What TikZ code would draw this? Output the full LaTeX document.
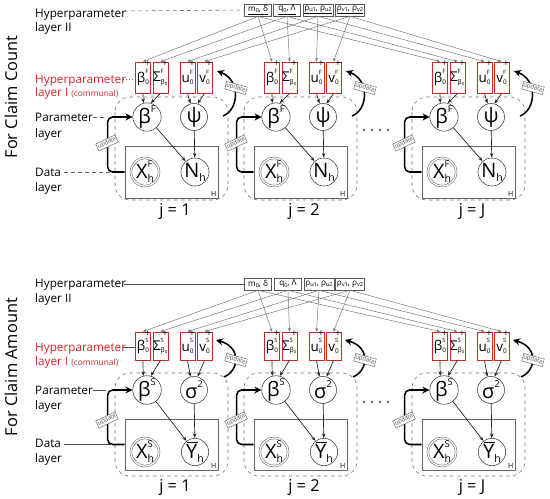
\documentclass[tikz,border=0pt]{standalone}
\usepackage{amsmath}
\usepackage{fontspec}
\setmainfont{Open Sans}
\usetikzlibrary{arrows.meta}
\definecolor{hred}{RGB}{208,40,40}
\newcommand{\sps}[1]{\raisebox{0.55em}{\fontsize{8}{8}\selectfont #1}}
\newcommand{\sbs}[1]{\raisebox{-0.2em}{\fontsize{9}{9}\selectfont #1}}
\newcommand{\spsb}[2]{\rlap{\sps{#1}}\sbs{#2}}
\newcommand{\rsb}[2]{\rlap{\raisebox{0.62em}{\fontsize{5}{5}\selectfont #1}}\raisebox{-0.15em}{\fontsize{5.5}{5.5}\selectfont #2}}
\newcommand{\hsub}[1]{\raisebox{-0.2em}{\fontsize{4.8}{4.8}\selectfont #1}}
\newcommand{\ybar}{\makebox[0pt][l]{\hspace{0.03em}\rule[0.8em]{0.56em}{0.05em}}Y}
\begin{document}
\begin{tikzpicture}[x=0.03cm,y=-0.03cm,
 circ/.style={circle,draw=black!75,line width=0.5pt,minimum size=0.81cm,inner sep=0pt,font=\fontsize{17}{17}\selectfont},
 dcirc/.style={circ,draw=black!60,double=white,double distance=1.1pt,line width=0.45pt},
 redbox/.style={draw=hred,fill=white,line width=0.8pt,minimum width=0.45cm,inner sep=0pt,font=\fontsize{11.5}{11.5}\selectfont},
 plus/.style={inner sep=0pt,font=\fontsize{8}{8}\selectfont},
 hbox/.style={draw=black!65,fill=white,line width=0.5pt,inner sep=1pt,minimum width=0.8cm,minimum height=0.36cm,font=\fontsize{7}{7}\selectfont},
 hline/.style={draw=black!55,line width=0.4pt,-{Stealth[length=3pt,width=2.5pt]}},
 arr/.style={draw=black!85,line width=0.6pt,-{Stealth[length=4pt,width=3pt]}},
 upd/.style={draw=black,line width=1.3pt,-{Stealth[length=6pt,width=6pt]}},
 updl/.style={draw=black!60,fill=white,line width=0.4pt,inner sep=0.8pt,font=\fontsize{5}{5}\selectfont,text=black!70},
 lab/.style={font=\fontsize{10}{10}\selectfont,anchor=base west,inner sep=0pt},
 plate/.style={draw=black!55,dashed,line width=0.5pt,rounded corners=0.45cm},
 dplate/.style={draw=black!60,line width=0.6pt,minimum width=2.79cm,inner sep=0pt},
 hfont/.style={font=\fontsize{6}{6}\selectfont,anchor=south east,inner sep=1.5pt},
 jfont/.style={font=\fontsize{14}{14}\selectfont},
 big/.style={font=\fontsize{14}{14}\selectfont,rotate=90},
 dashl/.style={draw=black!60,dashed,line width=0.5pt},
 dotl/.style={draw=black!60,dotted,line width=0.6pt},
 soll/.style={draw=black!70,line width=0.5pt},
]
\useasboundingbox (0,0) rectangle (550,499);

%================ TOP PANEL =================
\node[big] (tA) at (11,97) {For Claim Count};
\node[lab] (lA1) at (35,17) {Hyperparameter};
\node[lab] (lA2) at (35,31) {layer II};
\node[lab,text=hred] (lA3) at (35,83) {Hyperparameter};
\node[lab,text=hred] (lA4) at (35,96) {layer I {\fontsize{7.2}{7.2}\selectfont(communal)}};
\node[lab] (lA5) at (35,121) {Parameter};
\node[lab] (lA6) at (35,137) {layer};
\node[lab] (lA7) at (35,176) {Data};
\node[lab] (lA8) at (35,191) {layer};

\node[hbox] (ha) at (258,10) {\underline{m\hsub{0}, δ}};
\node[hbox] (hb) at (287,10) {\underline{q\hsub{0}, Λ}};
\node[hbox] (hc) at (318,10) {\underline{ρ\hsub{u1}, ρ\hsub{u2}}};
\node[hbox] (hd) at (350,10) {\underline{ρ\hsub{v1}, ρ\hsub{v2}}};
\coordinate (cA1) at (124,11);
\draw[dashl] (cA1) -- (ha.west);

\foreach \dx/\jn/\jl in {0/1/1,129/2/2,297/3/J}{
  \draw[plate] (115+\dx,97) rectangle (228+\dx,200);
  \node[dplate,minimum height=1.56cm] (dd\jn) at (171.5+\dx,172) {};
  \node[circ] (b\jn) at (147+\dx,117) {β\sps{F}};
  \node[circ] (p\jn) at (194+\dx,117) {ψ};
  \node[dcirc] (x\jn) at (145+\dx,172) {X\spsb{F}{h}};
  \node[circ] (n\jn) at (195+\dx,172) {N\sbs{h}};
  \node[redbox,minimum height=0.93cm] (rb\jn) at (143+\dx,77.5) {β\rsb{F}{0}};
  \node[redbox,minimum height=0.93cm] (rs\jn) at (160.5+\dx,77.5) {Σ\rsb{F}{β\textsubscript{0}}};
  \node[redbox,minimum height=0.93cm] (ru\jn) at (187.5+\dx,77.5) {u\rsb{F}{0}};
  \node[redbox,minimum height=0.93cm] (rv\jn) at (204.5+\dx,77.5) {v\rsb{F}{0}};
  \node[plus] (pb\jn) at ([xshift=-0.1cm,yshift=-0.08cm]rb\jn.north east) {+};
  \node[plus] (ps\jn) at ([xshift=-0.1cm,yshift=-0.08cm]rs\jn.north east) {+};
  \node[plus] (pu\jn) at ([xshift=-0.1cm,yshift=-0.08cm]ru\jn.north east) {+};
  \node[plus] (pv\jn) at ([xshift=-0.1cm,yshift=-0.08cm]rv\jn.north east) {+};
  \draw[arr] (rb\jn.south) -- (b\jn.105);
  \draw[arr] (rs\jn.south) -- (b\jn.75);
  \draw[arr] (ru\jn.south) -- (p\jn.105);
  \draw[arr] (rv\jn.south) -- (p\jn.75);
  \draw[arr] (b\jn) -- (n\jn);
  \draw[arr] (p\jn) -- (n\jn);
  \draw[upd,rounded corners=0.15cm] (dd\jn.west) -- ++(-17,0) |- (b\jn.west);
  \node[updl,rotate=25] (ul\jn) at (107+\dx,143) {update};
  \draw[upd] (223+\dx,116) .. controls (239+\dx,110) and (241+\dx,80) .. (217+\dx,71);
  \node[updl,rotate=-15] (ur\jn) at (236+\dx,88) {update};
  \node[hfont] (hh\jn) at (dd\jn.south east) {H};
  \node[jfont] (j\jn) at (175+\dx,211) {j = \jl};
}
\foreach \jn in {1,2,3}{
  \draw[hline] (ha.south) -- (rb\jn.north);
  \draw[hline] (hb.south) -- (rs\jn.north);
  \draw[hline] (hc.south) -- (ru\jn.north);
  \draw[hline] (hd.south) -- (rv\jn.north);
}
\coordinate (cA2) at (123,79);
\draw[dotl] (cA2) -- (rb1.west |- cA2);
\coordinate (cA3) at (93,117);
\coordinate (cA4) at (106,117);
\draw[dashl] (cA3) -- (cA4);
\coordinate (cA5) at (64,172);
\coordinate (cA6) at (112,172);
\draw[dashl] (cA5) -- (cA6);
\foreach \k in {0,1,2,3} \fill[black!80] (364+8*\k,130) circle (1pt);

%================ BOTTOM PANEL =================
\node[big] (tB) at (11,367) {For Claim Amount};
\node[lab] (lB1) at (35,287) {Hyperparameter};
\node[lab] (lB2) at (35,302) {layer II};
\node[lab,text=hred] (lB3) at (35,351) {Hyperparameter};
\node[lab,text=hred] (lB4) at (35,365) {layer I {\fontsize{7.2}{7.2}\selectfont(communal)}};
\node[lab] (lB5) at (35,394) {Parameter};
\node[lab] (lB6) at (35,409) {layer};
\node[lab] (lB7) at (35,447) {Data};
\node[lab] (lB8) at (35,462) {layer};

\node[hbox] (hA) at (258,284) {m\hsub{0}, δ};
\node[hbox] (hB) at (288,284) {q\hsub{0}, Λ};
\node[hbox] (hC) at (319,284) {ρ\hsub{u1}, ρ\hsub{u2}};
\node[hbox] (hD) at (350,284) {ρ\hsub{v1}, ρ\hsub{v2}};
\coordinate (cB1) at (124,284);
\draw[soll] (cB1) -- (hA.west);

\foreach \dx/\jn/\jl in {0/1/1,129/2/2,297/3/J}{
  \draw[plate] (115+\dx,373) rectangle (228+\dx,476);
  \node[dplate,minimum height=1.53cm] (ddB\jn) at (171.5+\dx,444.5) {};
  \node[circ] (bB\jn) at (147+\dx,390) {β\sps{S}};
  \node[circ] (pB\jn) at (194+\dx,390) {σ\sps{2}};
  \node[dcirc] (xB\jn) at (145+\dx,452) {X\spsb{S}{h}};
  \node[circ] (nB\jn) at (195+\dx,452) {\ybar\sbs{h}};
  \node[redbox,minimum height=0.84cm] (rbB\jn) at (143+\dx,346) {β\rsb{S}{0}};
  \node[redbox,minimum height=0.84cm] (rsB\jn) at (160.5+\dx,346) {Σ\rsb{S}{β\textsubscript{0}}};
  \node[redbox,minimum height=0.84cm] (ruB\jn) at (187.5+\dx,346) {u\rsb{S}{0}};
  \node[redbox,minimum height=0.84cm] (rvB\jn) at (204.5+\dx,346) {v\rsb{S}{0}};
  \node[plus] (pbB\jn) at ([xshift=-0.1cm,yshift=-0.08cm]rbB\jn.north east) {+};
  \node[plus] (psB\jn) at ([xshift=-0.1cm,yshift=-0.08cm]rsB\jn.north east) {+};
  \node[plus] (puB\jn) at ([xshift=-0.1cm,yshift=-0.08cm]ruB\jn.north east) {+};
  \node[plus] (pvB\jn) at ([xshift=-0.1cm,yshift=-0.08cm]rvB\jn.north east) {+};
  \draw[arr] (rbB\jn.south) -- (bB\jn.105);
  \draw[arr] (rsB\jn.south) -- (bB\jn.75);
  \draw[arr] (ruB\jn.south) -- (pB\jn.105);
  \draw[arr] (rvB\jn.south) -- (pB\jn.75);
  \draw[arr] (bB\jn) -- (nB\jn);
  \draw[arr] (pB\jn) -- (nB\jn);
  \draw[upd,rounded corners=0.15cm] (ddB\jn.west) -- ++(-17,0) |- (bB\jn.west);
  \node[updl,rotate=25] (ulB\jn) at (107+\dx,420) {update};
  \draw[upd] (224+\dx,377) .. controls (240+\dx,370) and (241+\dx,347) .. (216+\dx,340);
  \node[updl,rotate=-15] (urB\jn) at (236+\dx,360) {update};
  \node[hfont] (hhB\jn) at (ddB\jn.south east) {H};
  \node[jfont] (jB\jn) at (175+\dx,487) {j = \jl};
}
\foreach \jn in {1,2,3}{
  \draw[hline] (hA.south) -- (rbB\jn.north);
  \draw[hline] (hB.south) -- (rsB\jn.north);
  \draw[hline] (hC.south) -- (ruB\jn.north);
  \draw[hline] (hD.south) -- (rvB\jn.north);
}
\coordinate (cB2) at (123,347);
\draw[soll] (cB2) -- (rbB1.west |- cB2);
\coordinate (cB3) at (93,390);
\coordinate (cB4) at (106,390);
\draw[soll] (cB3) -- (cB4);
\coordinate (cB5) at (64,444);
\coordinate (cB6) at (112,444);
\draw[soll] (cB5) -- (cB6);
\foreach \k in {0,1,2,3} \fill[black!80] (364+8*\k,402) circle (1pt);
\end{tikzpicture}
\end{document}
